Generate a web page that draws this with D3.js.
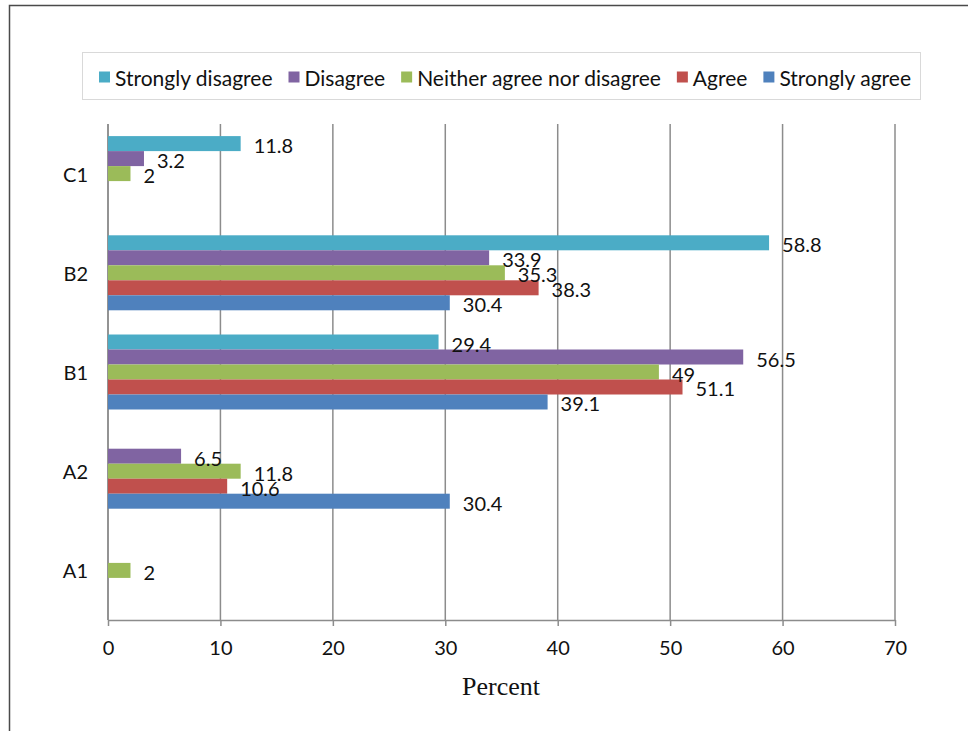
<!DOCTYPE html>
<html>
<head>
<meta charset="utf-8">
<script src="https://cdn.jsdelivr.net/npm/d3@7/dist/d3.min.js"></script>
<style>
  html, body { margin: 0; padding: 0; background: #fff; }
  svg { display: block; }
</style>
</head>
<body>
<svg id="chart" width="968" height="731"></svg>
<script>
// Categories, top to bottom as drawn
const categories = ["C1", "B2", "B1", "A2", "A1"];
// Series in legend order (also top-to-bottom order inside each group)
const seriesNames = ["Strongly disagree", "Disagree", "Neither agree nor disagree", "Agree", "Strongly agree"];
const seriesColors = ["#4BACC6", "#8064A2", "#9BBB59", "#C0504D", "#4F81BD"];
// Percent values per series, aligned with categories (null = no bar)
const stronglyDisagree = [11.8, 58.8, 29.4, null, null];
const disagree         = [3.2, 33.9, 56.5, 6.5, null];
const neither          = [2, 35.3, 49, 11.8, 2];
const agree            = [null, 38.3, 51.1, 10.6, null];
const stronglyAgree    = [null, 30.4, 39.1, 30.4, null];
const seriesValues = [stronglyDisagree, disagree, neither, agree, stronglyAgree];
const xTicks = [0, 10, 20, 30, 40, 50, 60, 70];
const xTitle = "Percent";

const svg = d3.select("#chart");
const font = "Lato, 'Open Sans', sans-serif";
const fontSize = 20;
const gridColor = "#8c8c8c";

// Outer frame (top and left edges)
svg.append("path")
  .attr("d", "M9.5,731 V5.5 H968")
  .attr("fill", "none")
  .attr("stroke", "#4a4a4a")
  .attr("stroke-width", 1.5);

const plot = { left: 108, right: 895, top: 124, bottom: 620 };

const x = d3.scaleLinear().domain([0, 70]).range([plot.left, plot.right]);
const y = d3.scaleBand().domain(categories).range([plot.top, plot.bottom])
  .paddingInner(0.244).paddingOuter(0.122);
const ySub = d3.scaleBand().domain(seriesNames).range([0, y.bandwidth()]);

// Vertical gridlines
svg.append("g").selectAll("line").data(xTicks).join("line")
  .attr("x1", d => x(d)).attr("x2", d => x(d))
  .attr("y1", plot.top).attr("y2", plot.bottom)
  .attr("stroke", gridColor).attr("stroke-width", 1.5);

// X axis
const xAxis = svg.append("g")
  .attr("transform", `translate(0,${plot.bottom})`)
  .call(d3.axisBottom(x).tickValues(xTicks).tickSize(6).tickSizeOuter(0).tickPadding(15).tickFormat(d3.format("d")));
xAxis.select(".domain").attr("stroke", gridColor).attr("stroke-width", 1.5);
xAxis.selectAll(".tick line").attr("stroke", gridColor).attr("stroke-width", 1.5);
xAxis.selectAll(".tick text")
  .attr("font-family", font).attr("font-size", fontSize).attr("fill", "#111");

// Y axis line
svg.append("line")
  .attr("x1", x(0)).attr("x2", x(0))
  .attr("y1", plot.top).attr("y2", plot.bottom)
  .attr("stroke", gridColor).attr("stroke-width", 1.5);

// Category labels
svg.append("g").selectAll("text").data(categories).join("text")
  .attr("x", 88)
  .attr("y", d => y(d) + y.bandwidth() / 2)
  .attr("text-anchor", "end")
  .attr("dominant-baseline", "central")
  .attr("font-family", font).attr("font-size", fontSize).attr("fill", "#111")
  .text(d => d);

// Bars and value labels
const barData = [];
seriesNames.forEach((s, si) => {
  categories.forEach((c, ci) => {
    const v = seriesValues[si][ci];
    if (v != null) barData.push({ series: s, color: seriesColors[si], category: c, value: v });
  });
});

svg.append("g").selectAll("rect").data(barData).join("rect")
  .attr("x", x(0))
  .attr("y", d => y(d.category) + ySub(d.series))
  .attr("width", d => x(d.value) - x(0))
  .attr("height", ySub.bandwidth())
  .attr("fill", d => d.color);

svg.append("g").selectAll("text").data(barData).join("text")
  .attr("x", d => x(d.value) + 13)
  .attr("y", d => y(d.category) + ySub(d.series) + ySub.bandwidth() / 2 + 1.5)
  .attr("dominant-baseline", "central")
  .attr("font-family", font).attr("font-size", fontSize).attr("fill", "#111")
  .text(d => d.value);

// Axis title
svg.append("text")
  .attr("x", 501).attr("y", 695)
  .attr("text-anchor", "middle")
  .attr("font-family", "'Liberation Serif', 'Times New Roman', serif")
  .attr("font-size", 26).attr("fill", "#111")
  .text(xTitle);

// Legend
svg.append("rect")
  .attr("x", 82.5).attr("y", 52.5).attr("width", 838).attr("height", 47)
  .attr("fill", "#fff").attr("stroke", "#d9d9d9").attr("stroke-width", 1);

const legend = svg.append("g");
let lx = 99;
const ly = 77;
seriesNames.forEach((s, i) => {
  legend.append("rect")
    .attr("x", lx).attr("y", ly - 5.5).attr("width", 11).attr("height", 11)
    .attr("fill", seriesColors[i]);
  const t = legend.append("text")
    .attr("x", lx + 16).attr("y", ly)
    .attr("dominant-baseline", "central")
    .attr("font-family", font).attr("font-size", 21).attr("fill", "#111")
    .text(s);
  lx += 16 + t.node().getComputedTextLength() + 16;
});
</script>
</body>
</html>
